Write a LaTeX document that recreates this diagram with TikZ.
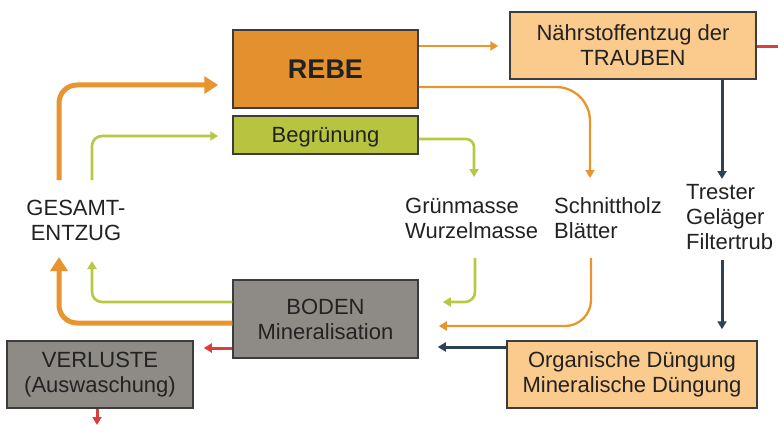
\documentclass[tikz,border=0pt]{standalone}
\usepackage{fontspec}
\setmainfont{Liberation Sans}
\usetikzlibrary{arrows.meta}

\definecolor{rebefill}{HTML}{E3902F}
\definecolor{begrfill}{HTML}{B8C43F}
\definecolor{lightorange}{HTML}{FBCA8D}
\definecolor{soilgray}{HTML}{8E8B86}
\definecolor{boxline}{HTML}{3C3C3C}
\definecolor{txt}{HTML}{222222}
\definecolor{floworange}{HTML}{E8952F}
\definecolor{flowgreen}{HTML}{B9C843}
\definecolor{flownavy}{HTML}{2C4257}
\definecolor{flowred}{HTML}{D8403A}

\begin{document}
\begin{tikzpicture}[x=1pt, y=-1pt,
    box/.style={draw=boxline, line width=1.5pt, inner sep=0pt, align=center,
      text=txt, font=\fontsize{22}{25}\selectfont},
    lbl/.style={inner sep=0pt, text=txt, font=\fontsize{22}{25}\selectfont},
    bigflow/.style={line width=5pt, rounded corners=18pt,
      -{Triangle[width=17pt,length=14pt]}},
    flow/.style={line width=2.6pt, rounded corners=10pt,
      -{Triangle[width=9pt,length=8pt]}},
  ]
  \useasboundingbox (0,0) rectangle (778,425);

  % boxes
  \node[box, fill=rebefill, minimum width=185pt, minimum height=78pt,
    font=\bfseries\fontsize{27}{30}\selectfont] (rebe) at (325.5,69) {REBE};
  \node[box, fill=begrfill, minimum width=185pt, minimum height=38pt,
    text depth=0pt] (begr) at (325.5,135) {Begrünung};
  \node[box, fill=lightorange, minimum width=246pt, minimum height=67pt]
    (naehr) at (633,45.5) {Nährstoffentzug der\\TRAUBEN};
  \node[box, fill=soilgray, minimum width=185pt, minimum height=78pt]
    (boden) at (325.5,319) {BODEN\\Mineralisation};
  \node[box, fill=soilgray, minimum width=186pt, minimum height=67pt]
    (verluste) at (100,374.5) {VERLUSTE\\(Auswaschung)};
  \node[box, fill=lightorange, minimum width=250pt, minimum height=67pt]
    (duengung) at (632,374.5) {Organische Düngung\\Mineralische Düngung};

  % labels
  \node[lbl, align=center] (gesamt) at (76,220.5) {GESAMT-\\ENTZUG};
  \node[lbl, align=left, anchor=west] (gruen) at (405,218.5) {Grünmasse\\Wurzelmasse};
  \node[lbl, align=left, anchor=west] (schnitt) at (554,218) {Schnittholz\\Blätter};
  \node[lbl, align=left, anchor=west] (trester) at (686,217.5) {Trester\\Geläger\\Filtertrub};

  \coordinate (gesamt-o-top) at (59,180);
  \coordinate (gesamt-g-top) at (92,180);
  \coordinate (gesamt-o-bot) at (59,257);
  \coordinate (gesamt-g-bot) at (92,261);
  \coordinate (gruen-top) at (474,177);
  \coordinate (gruen-bot) at (475,258);
  \coordinate (schnitt-top) at (590,178);
  \coordinate (schnitt-bot) at (591,258);
  \coordinate (trester-top) at (722,179);
  \coordinate (trester-bot) at (722,260);
  \coordinate (ausw) at (97,425);
  \coordinate (rand) at (787,47);
  \coordinate (rebe-out) at ([yshift=23pt]rebe.east);
  \coordinate (duengung-out) at ([yshift=27.5pt]duengung.west);
  \coordinate (boden-out) at ([yshift=-29pt]boden.west);

  % entzug
  \draw[bigflow, draw=floworange] ([yshift=-4pt]boden.west) -| (gesamt-o-bot);
  \draw[bigflow, draw=floworange, shorten >=14pt]
    (gesamt-o-top) |- ([yshift=-16pt]rebe.west);
  \draw[flow, draw=flowgreen] ([yshift=17pt]boden.west) -| (gesamt-g-bot);
  \draw[flow, draw=flowgreen, shorten >=14pt]
    (gesamt-g-top) |- ([yshift=-1pt]begr.west);

  % rebe / begruenung
  \draw[flow, draw=floworange, line width=2.3pt, shorten >=11pt]
    (rebe-out) -- (rebe-out -| naehr.west);
  \draw[flow, draw=floworange, line width=2.3pt, rounded corners=34pt]
    ([yshift=-18pt]rebe.east) -| (schnitt-top);
  \draw[flow, draw=flowgreen, rounded corners=8pt]
    ([yshift=-4pt]begr.east) -| (gruen-top);

  % rueckfluss boden
  \draw[flow, draw=flowgreen, shorten >=24pt]
    (gruen-bot) |- ([yshift=17pt]boden.east);
  \draw[flow, draw=floworange, line width=2.3pt, rounded corners=26pt, shorten >=20pt]
    (schnitt-bot) |- ([yshift=-7pt]boden.east);
  \draw[flow, draw=flownavy, line width=3pt, shorten >=19pt]
    (duengung-out) -- (duengung-out -| boden.east);

  % trauben
  \draw[flow, draw=flownavy, line width=3pt] ([xshift=89pt]naehr.south) -- (trester-top);
  \draw[flow, draw=flownavy, line width=3pt, shorten >=11pt]
    (trester-bot) -- (trester-bot |- duengung.north);

  % verluste
  \draw[flow, draw=flowred, line width=3pt, shorten >=10pt]
    (boden-out) -- (boden-out -| verluste.east);
  \draw[flow, draw=flowred, line width=3pt] ([xshift=-3pt]verluste.south) -- (ausw);
  \draw[flow, draw=flowred, line width=3pt] ([yshift=-1.5pt]naehr.east) -- (rand);
\end{tikzpicture}
\end{document}
